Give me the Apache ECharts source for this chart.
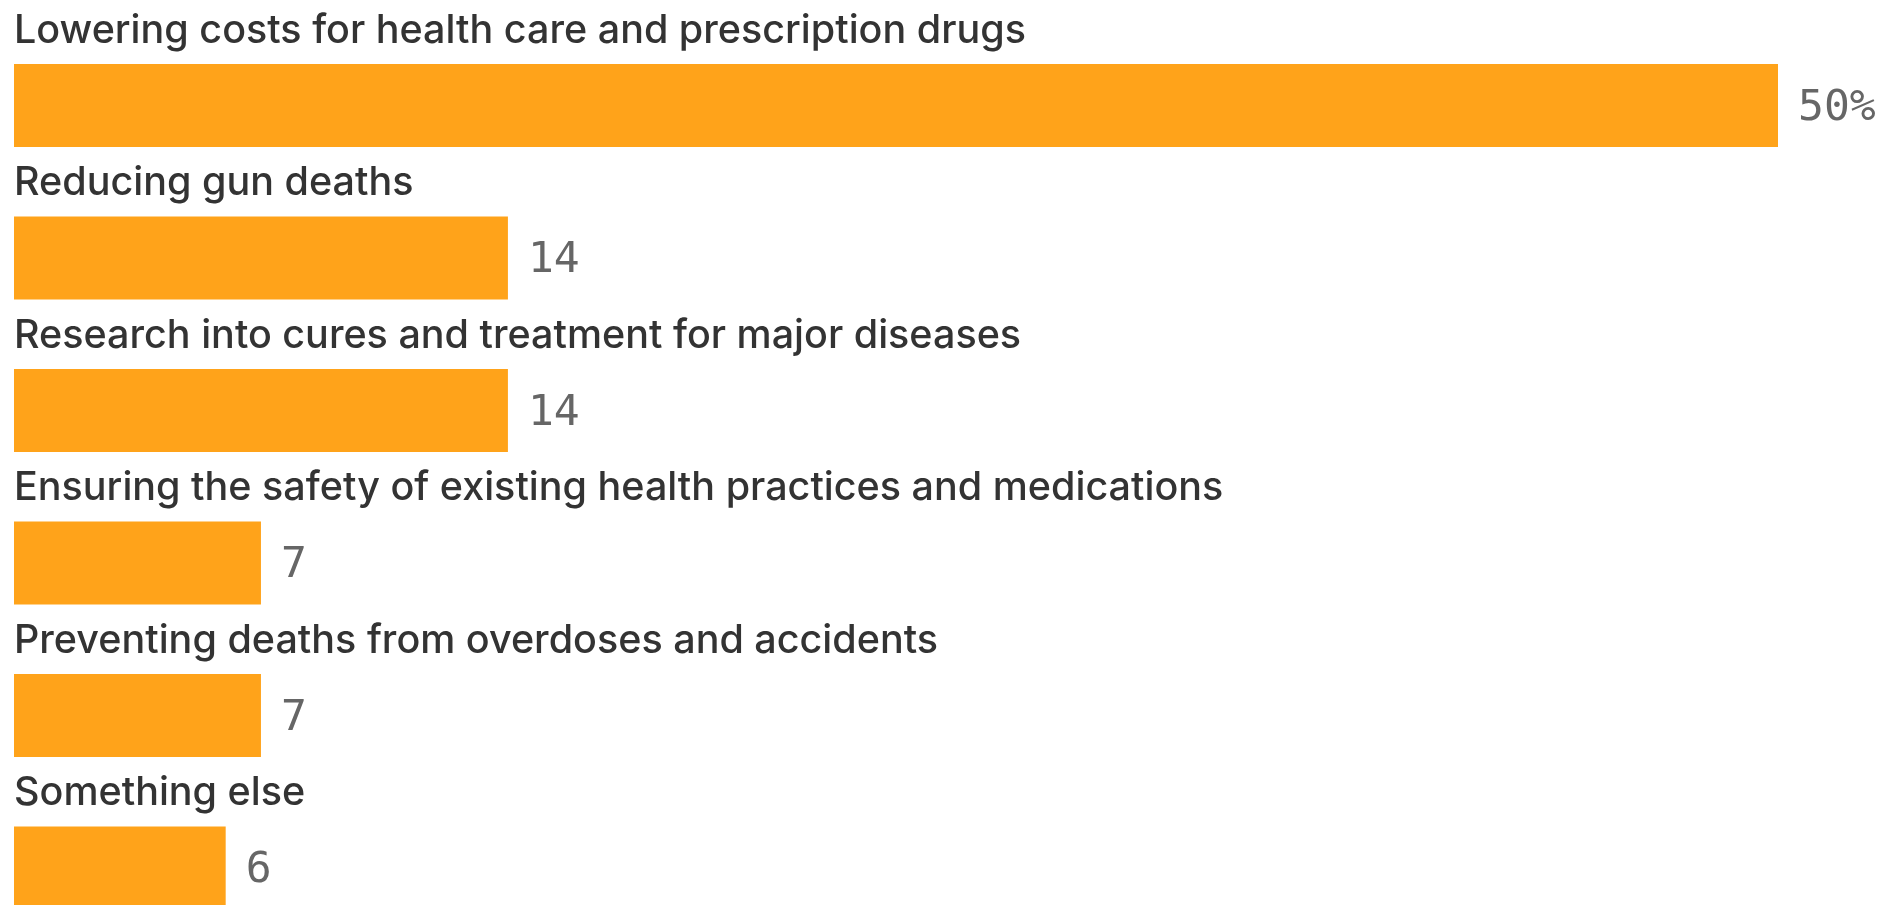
<!DOCTYPE html>
<html>
<head>
<meta charset="utf-8">
<style>
  html, body { margin: 0; padding: 0; background: #ffffff; }
  #chart { width: 1888px; height: 905px; }
</style>
<script src="https://cdn.jsdelivr.net/npm/echarts@6/dist/echarts.min.js"></script>
</head>
<body>
<div id="chart"></div>
<script>
// Survey answers: which health priority matters most (share of respondents, %)
const categories = [
  'Lowering costs for health care and prescription drugs',
  'Reducing gun deaths',
  'Research into cures and treatment for major diseases',
  'Ensuring the safety of existing health practices and medications',
  'Preventing deaths from overdoses and accidents',
  'Something else'
];
const values = [50, 14, 14, 7, 7, 6];

const BAR_COLOR = '#FFA31A';
const NAME_COLOR = '#333333';
const VALUE_COLOR = '#666666';

const chart = echarts.init(document.getElementById('chart'), null, { renderer: 'canvas' });

chart.setOption({
  animation: false,
  backgroundColor: '#ffffff',
  // category ticks sit on the grid edges, so the first and last bars are centred on top/bottom
  grid: { left: 14, right: 110, top: 105.5, height: 762.5, containLabel: false },
  xAxis: {
    type: 'value',
    min: 0,
    max: 50,
    show: false
  },
  yAxis: {
    type: 'category',
    data: categories,
    inverse: true,
    boundaryGap: false,
    show: false
  },
  series: [
    {
      // the bars with their value labels
      type: 'bar',
      data: values,
      barWidth: 83,
      barGap: '-100%',
      itemStyle: { color: BAR_COLOR },
      silent: true,
      label: {
        show: true,
        position: 'right',
        distance: 20,
        fontFamily: '"DejaVu Sans Mono", monospace',
        fontSize: 43,
        color: VALUE_COLOR,
        offset: [0, 3],
        formatter: p => p.dataIndex === 0 ? p.value + '%' : String(p.value)
      }
    },
    {
      // transparent twin that carries the category names above each bar
      type: 'bar',
      data: values,
      barWidth: 83,
      barGap: '-100%',
      itemStyle: { color: 'rgba(0,0,0,0)' },
      silent: true,
      label: {
        show: true,
        position: [0, -33],
        align: 'left',
        verticalAlign: 'middle',
        fontFamily: 'Inter, "Noto Sans", sans-serif',
        fontWeight: 500,
        fontSize: 39.5,
        color: NAME_COLOR,
        formatter: p => p.name
      }
    }
  ]
});
</script>
</body>
</html>
